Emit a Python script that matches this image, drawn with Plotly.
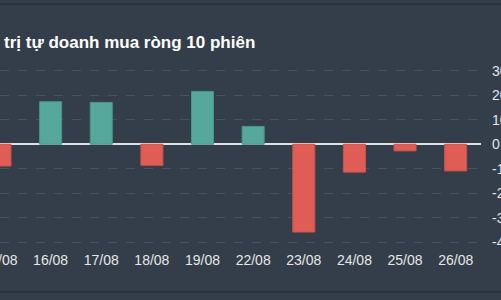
import plotly.graph_objects as go

dates = ["15/08", "16/08", "17/08", "18/08", "19/08", "22/08", "23/08", "24/08", "25/08", "26/08"]
values = [-8.9, 17.4, 17.1, -8.6, 21.6, 7.3, -35.9, -11.4, -2.7, -10.9]
title_text = "trị tự doanh mua ròng 10 phiên"
y_ticks = [-40, -30, -20, -10, 0, 10, 20, 30]

BG = "#343e4a"
POS = "#55a89b"
POS_EDGE = "#4a9487"
NEG = "#e05d55"
NEG_EDGE = "#c9524b"

colors = [POS if v >= 0 else NEG for v in values]
edges = [POS_EDGE if v >= 0 else NEG_EDGE for v in values]

fig = go.Figure(go.Bar(
    x=list(range(len(dates))), y=values,
    marker=dict(color=colors, line=dict(color=edges, width=1)),
    hoverinfo="skip",
))

fig.update_layout(
    width=501, height=300,
    paper_bgcolor=BG, plot_bgcolor=BG,
    margin=dict(l=0, r=20, t=65.9, b=52.8, autoexpand=False),
    bargap=0.565,
    showlegend=False,
    font=dict(family="Liberation Sans, Arial, sans-serif", color="#e6e6e6", size=14),
    xaxis=dict(
        range=[0, 9.5], tickmode="array", tickvals=list(range(len(dates))), ticktext=dates,
        showgrid=False, zeroline=False, showline=False, automargin=False,
        tickfont=dict(size=14, color="#e6e6e6"), ticks="", ticklabelstandoff=3,
        ticklabeloverflow="allow",
    ),
    yaxis=dict(
        range=[-42, 32], side="right", tickmode="array", tickvals=y_ticks,
        ticktext=[str(t) for t in y_ticks],
        showgrid=True, gridcolor="#4a5360", griddash="dash", gridwidth=1,
        zeroline=True, zerolinecolor="#dfe1e3", zerolinewidth=2,
        showline=False, automargin=False, ticks="", ticklabelstandoff=10,
        tickfont=dict(size=14, color="#e6e6e6"), ticklabeloverflow="allow",
    ),
    annotations=[dict(
        text="<b>" + title_text + "</b>", xref="paper", yref="paper",
        x=0, y=1.132, xanchor="left", yanchor="middle", xshift=2,
        showarrow=False, font=dict(size=17, color="#ffffff"),
    )],
    shapes=[
        dict(type="line", xref="paper", yref="paper", x0=-0.1, x1=1.1, y0=1.3414, y1=1.3414,
             line=dict(color="#29313b", width=2)),
        dict(type="line", xref="paper", yref="paper", x0=-0.1, x1=1.1, y0=-0.2471, y1=-0.2471,
             line=dict(color="#29313b", width=2)),
    ],
)

fig.write_html("out.html")
